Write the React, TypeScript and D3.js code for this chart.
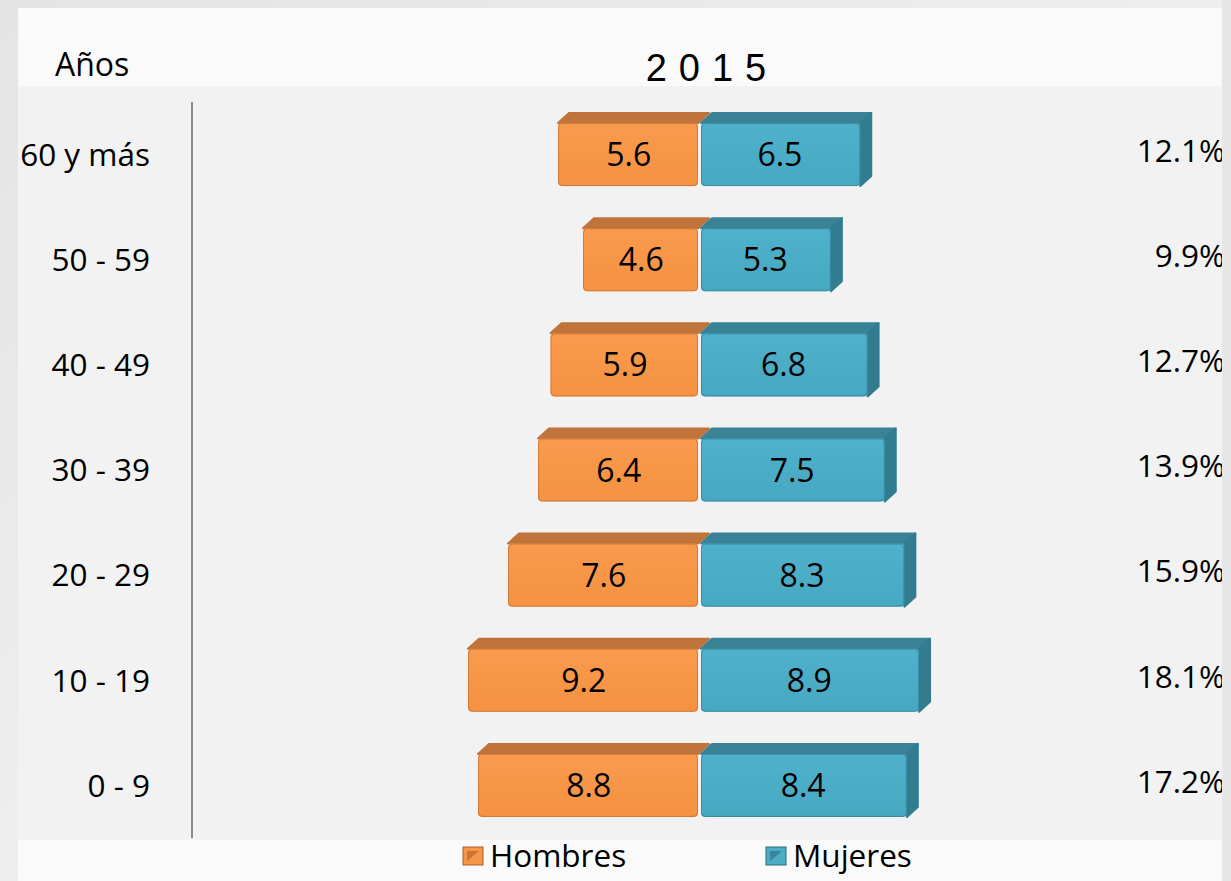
import React from 'react';
import * as d3 from 'd3';

const ageGroups = ['60 y más', '50 - 59', '40 - 49', '30 - 39', '20 - 29', '10 - 19', '0 - 9'];
const hombres = [5.6, 4.6, 5.9, 6.4, 7.6, 9.2, 8.8];
const mujeres = [6.5, 5.3, 6.8, 7.5, 8.3, 8.9, 8.4];
const totals = ['12.1%', '9.9%', '12.7%', '13.9%', '15.9%', '18.1%', '17.2%'];
const seriesNames = ['Hombres', 'Mujeres'];

const W = 1231;
const H = 881;
const FONT = "'Open Sans', 'Noto Sans', sans-serif";
const CX = 699.5;
const DX = 11;
const DY = 10;

const colors = {
  hombres: { front: '#f79646', top: '#c0733a', side: '#b86a30', dark: '#a85f2a' },
  mujeres: { front: '#4bacc6', top: '#3a8296', side: '#327c90', dark: '#2b6b7d' },
};

const App = () => {
  const y = d3.scaleBand<string>()
    .domain(ageGroups)
    .range([102, 838])
    .paddingInner(0.4)
    .paddingOuter(0.2);

  const xLeft = d3.scaleLinear().domain([0, 10]).range([CX - 1.5, CX - 1.5 - 250]);
  const xRight = d3.scaleLinear().domain([0, 10]).range([CX + 1.5, CX + 1.5 + 245]);

  const bw = y.bandwidth();

  const bar = (x0: number, x1: number, top: number, c: typeof colors.hombres, side: boolean, key: string) => {
    const bottom = top + bw;
    const topFace = `M${x0},${top} L${x0 + DX},${top - DY} L${x1 + DX},${top - DY} L${x1},${top} Z`;
    const sideFace = `M${x1},${top} L${x1 + DX},${top - DY} L${x1 + DX},${bottom - DY} L${x1},${bottom} Z`;
    return (
      <g key={key}>
        <path d={topFace} fill={c.top} stroke={c.top} strokeWidth={2} strokeLinejoin="round" />
        {side && <path d={sideFace} fill={c.side} stroke={c.side} strokeWidth={2} strokeLinejoin="round" />}
        <rect x={x0} y={top} width={x1 - x0} height={bw} rx={4} fill={`url(#grad-${key.split('-')[0]})`} />
        <rect x={x0 + 0.5} y={top + 0.5} width={x1 - x0 - 1} height={bw - 1} rx={4} fill="none" stroke={c.dark} strokeOpacity={0.5} />
      </g>
    );
  };

  return (
    <svg width={W} height={H} style={{ position: 'absolute', left: 0, top: 0 }}>
      <defs>
        <linearGradient id="grad-h" x1="0" y1="0" x2="0" y2="1">
          <stop offset="0" stopColor="#fa9a4c" />
          <stop offset="1" stopColor="#f59243" />
        </linearGradient>
        <linearGradient id="grad-m" x1="0" y1="0" x2="0" y2="1">
          <stop offset="0" stopColor="#4fb1cb" />
          <stop offset="1" stopColor="#47a8c2" />
        </linearGradient>
        <linearGradient id="bg" x1="0" y1="0" x2="1" y2="1">
          <stop offset="0" stopColor="#e4e4e4" />
          <stop offset="0.5" stopColor="#eeeeee" />
          <stop offset="1" stopColor="#e2e2e2" />
        </linearGradient>
      </defs>

      <rect x={0} y={0} width={W} height={H} fill="url(#bg)" />
      <rect x={18} y={8} width={1204} height={78} fill="#fafafa" />
      <rect x={18} y={86} width={1204} height={754} fill="#f2f2f2" />
      <rect x={18} y={840} width={1204} height={41} fill="#fafafa" />

      <text x={55} y={76} fontFamily={FONT} fontSize={32} fill="#000">Años</text>
      <text x={712} y={81} textAnchor="middle" fontFamily="'Liberation Sans', Arial, sans-serif" fontSize={38} letterSpacing={12} fill="#000">2015</text>

      <line x1={192} x2={192} y1={102} y2={838} stroke="#8a8a8a" strokeWidth={2} />

      {ageGroups.map((g, i) => {
        const top = y(g) as number;
        const mid = top + bw / 2;
        const hx = xLeft(hombres[i]);
        const mx = xRight(mujeres[i]);
        return (
          <g key={g}>
            {bar(hx, CX - 1.5, top, colors.hombres, false, `h-${i}`)}
            {bar(CX + 1.5, mx, top, colors.mujeres, true, `m-${i}`)}
            <text x={(hx + CX) / 2} y={mid} dy="0.36em" textAnchor="middle" fontFamily={FONT} fontSize={32} fill="#000">{hombres[i]}</text>
            <text x={(CX + mx) / 2} y={mid} dy="0.36em" textAnchor="middle" fontFamily={FONT} fontSize={32} fill="#000">{mujeres[i]}</text>
            <text x={150} y={mid} dy="0.36em" textAnchor="end" fontFamily={FONT} fontSize={31.5} fill="#000">{g}</text>
            <text x={1225} y={mid - 4} dy="0.36em" textAnchor="end" fontFamily={FONT} fontSize={31.5} fill="#000">{totals[i]}</text>
          </g>
        );
      })}

      <rect x={1222} y={0} width={9} height={H} fill="#e6e6e6" />

      {seriesNames.map((name, i) => {
        const c = i === 0 ? colors.hombres : colors.mujeres;
        const lx = i === 0 ? 463 : 766;
        return (
          <g key={name}>
            <rect x={lx} y={847} width={20} height={18} fill={c.front} stroke={c.dark} strokeWidth={1} />
            <path d={`M${lx + 4},${851} L${lx + 16},${851} L${lx + 4},${861} Z`} fill={c.dark} opacity={0.6} />
            <text x={lx + 27} y={867} fontFamily={FONT} fontSize={31.5} fill="#000">{name}</text>
          </g>
        );
      })}
    </svg>
  );
};

export default App;
